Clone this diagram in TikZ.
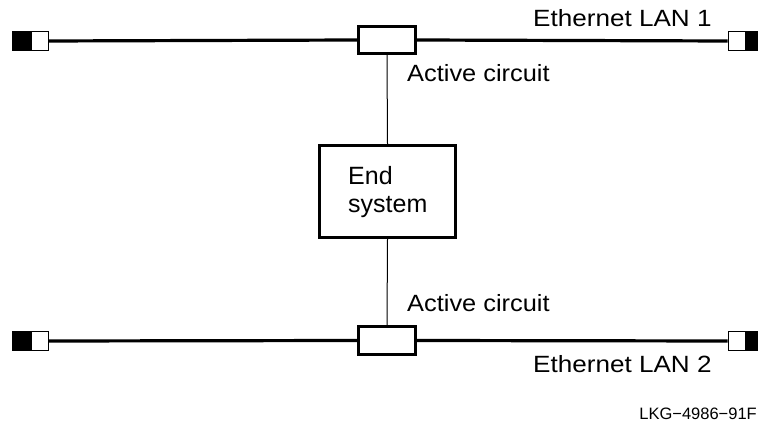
\documentclass[tikz,border=0pt]{standalone}
\usepackage{fontspec}
\setmainfont{Liberation Sans}
\usepackage{graphicx}
\begin{document}
\begin{tikzpicture}[x=1pt,y=-1pt,
  lan/.style={line width=3.2pt},
  link/.style={line width=1pt},
  boxst/.style={draw,line width=3.3pt,fill=white,inner sep=0pt},
  termb/.style={draw,line width=0.8pt,fill=black,inner sep=0pt,minimum height=19pt},
  termw/.style={draw,line width=0.8pt,fill=white,inner sep=0pt,minimum height=19pt},
  lbl/.style={inner sep=0pt,anchor=base west,font=\fontsize{23.5}{28}\selectfont},
  big/.style={inner sep=0pt,anchor=base west,font=\fontsize{25}{30}\selectfont},
  small/.style={inner sep=0pt,anchor=base east,font=\fontsize{16.5}{20}\selectfont}]
\useasboundingbox (0,0) rectangle (758,435);
% terminators LAN 1
\node[termb,minimum width=19pt] (t1lb) at (21.5,41) {};
\node[termw,minimum width=17pt] (t1lw) at (39.5,41) {};
\node[termw,minimum width=17pt] (t1rw) at (736.5,41) {};
\node[termb,minimum width=14pt] (t1rb) at (752,41) {};
% terminators LAN 2
\node[termb,minimum width=19pt] (t2lb) at (21.5,341) {};
\node[termw,minimum width=17pt] (t2lw) at (39.5,341) {};
\node[termw,minimum width=17pt] (t2rw) at (736.5,341) {};
\node[termb,minimum width=14pt] (t2rb) at (752,341) {};
% boxes
\node[boxst,minimum width=57pt,minimum height=27pt] (ac1) at (387,40) {};
\node[boxst,minimum width=57pt,minimum height=28pt] (ac2) at (387,340.5) {};
\node[boxst,minimum width=136pt,minimum height=92pt] (es) at (387.5,191.5) {};
% lines
\draw[lan] (t1lw.east) -- (ac1.west);
\draw[lan] (ac1.east) -- (t1rw.west);
\draw[lan] (t2lw.east) -- (ac2.west);
\draw[lan] (ac2.east) -- (t2rw.west);
\draw[link] (ac1.south) -- (es.north);
\draw[link] (es.south) -- (ac2.north);
% labels
\node[lbl] (lan1) at (533,27) {\scalebox{1.11}[1]{Ethernet LAN 1}};
\node[lbl] (act1) at (407,82) {\scalebox{1.08}[1]{Active circuit}};
\node[lbl] (act2) at (407,312) {\scalebox{1.08}[1]{Active circuit}};
\node[lbl] (lan2) at (533,373) {\scalebox{1.11}[1]{Ethernet LAN 2}};
\node[big] (es1) at (348,185) {End};
\node[big] (es2) at (348,213) {system};
\node[small] (fig) at (757,420) {LKG−4986−91F};
\end{tikzpicture}
\end{document}
